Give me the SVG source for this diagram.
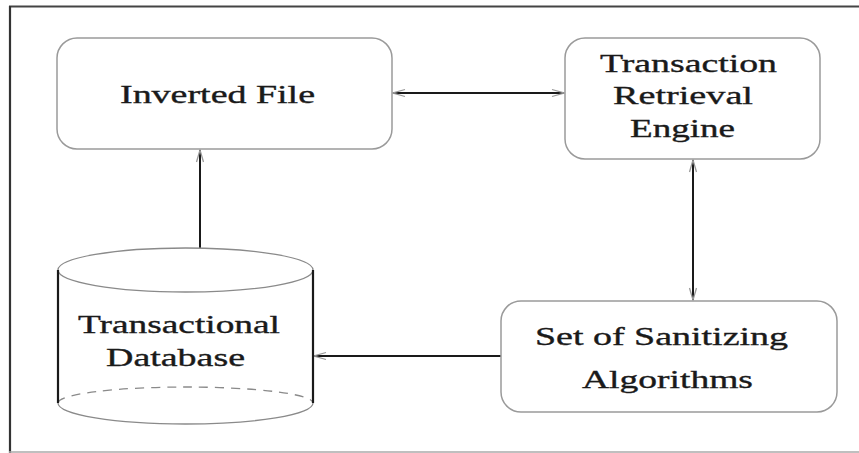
<svg xmlns="http://www.w3.org/2000/svg" width="859" height="453" viewBox="0 0 859 453">
<style>
.box{fill:#fff;stroke:#9a9a9a;stroke-width:1.5}
.cyl{fill:none;stroke:#8a8a8a;stroke-width:1.3}
.side{stroke:#1a1a1a;stroke-width:2.2}
.lbl{font-family:"Liberation Serif","Times New Roman",serif;font-size:25px;fill:#1a1a1a;stroke:#1a1a1a;stroke-width:0.35}
.conn{stroke:#1a1a1a;stroke-width:2;fill:none}
</style>
<defs>
<marker id="ah" viewBox="0 0 14 10" refX="13" refY="5" markerWidth="14" markerHeight="10" markerUnits="userSpaceOnUse" orient="auto-start-reverse">
<path d="M1,1.5 L13,5 L1,8.5" fill="none" stroke="#9a9a9a" stroke-width="1.3"/>
</marker>
</defs>
<rect width="859" height="453" fill="#fff"/>
<g id="frame">
<line x1="9" y1="6.5" x2="859" y2="6.5" stroke="#444" stroke-width="2.2"/>
<line x1="10" y1="6" x2="10" y2="453" stroke="#333" stroke-width="2.2"/>
<line x1="9" y1="452" x2="859" y2="452" stroke="#aaa" stroke-width="1.5"/>
</g>
<g id="connectors">
<line class="conn" x1="393" y1="93" x2="564" y2="93" marker-start="url(#ah)" marker-end="url(#ah)"/>
<line class="conn" x1="200" y1="248" x2="200" y2="150" marker-end="url(#ah)"/>
<line class="conn" x1="693" y1="160" x2="693" y2="300" marker-start="url(#ah)" marker-end="url(#ah)"/>
<line class="conn" x1="501" y1="356" x2="314" y2="356" marker-end="url(#ah)"/>
</g>
<g id="inverted-file">
<rect class="box" x="57" y="38" width="335" height="111" rx="20"/>
<text class="lbl" x="120" y="103" textLength="195" lengthAdjust="spacingAndGlyphs">Inverted File</text>
</g>
<g id="retrieval-engine">
<rect class="box" x="565" y="38" width="255" height="121" rx="20"/>
<text class="lbl" x="600" y="72" textLength="177" lengthAdjust="spacingAndGlyphs">Transaction</text>
<text class="lbl" x="613" y="104" textLength="140" lengthAdjust="spacingAndGlyphs">Retrieval</text>
<text class="lbl" x="630" y="137" textLength="105" lengthAdjust="spacingAndGlyphs">Engine</text>
</g>
<g id="sanitizing">
<rect class="box" x="501" y="301" width="336" height="111" rx="20"/>
<text class="lbl" x="535" y="345" textLength="253" lengthAdjust="spacingAndGlyphs">Set of Sanitizing</text>
<text class="lbl" x="582" y="388" textLength="171" lengthAdjust="spacingAndGlyphs">Algorithms</text>
</g>
<g id="database">
<ellipse class="cyl" cx="185.5" cy="270" rx="127.5" ry="22"/>
<path class="cyl" d="M58,403 A127.5,21 0 0 0 313,403"/>
<path class="cyl" d="M58,403 A127.5,16 0 0 1 313,403" stroke-dasharray="9,7"/>
<line class="side" x1="58" y1="270" x2="58" y2="403"/>
<line class="side" x1="313" y1="270" x2="313" y2="403"/>
<text class="lbl" x="78" y="333" textLength="202" lengthAdjust="spacingAndGlyphs">Transactional</text>
<text class="lbl" x="106" y="366" textLength="139" lengthAdjust="spacingAndGlyphs">Database</text>
</g>
</svg>
